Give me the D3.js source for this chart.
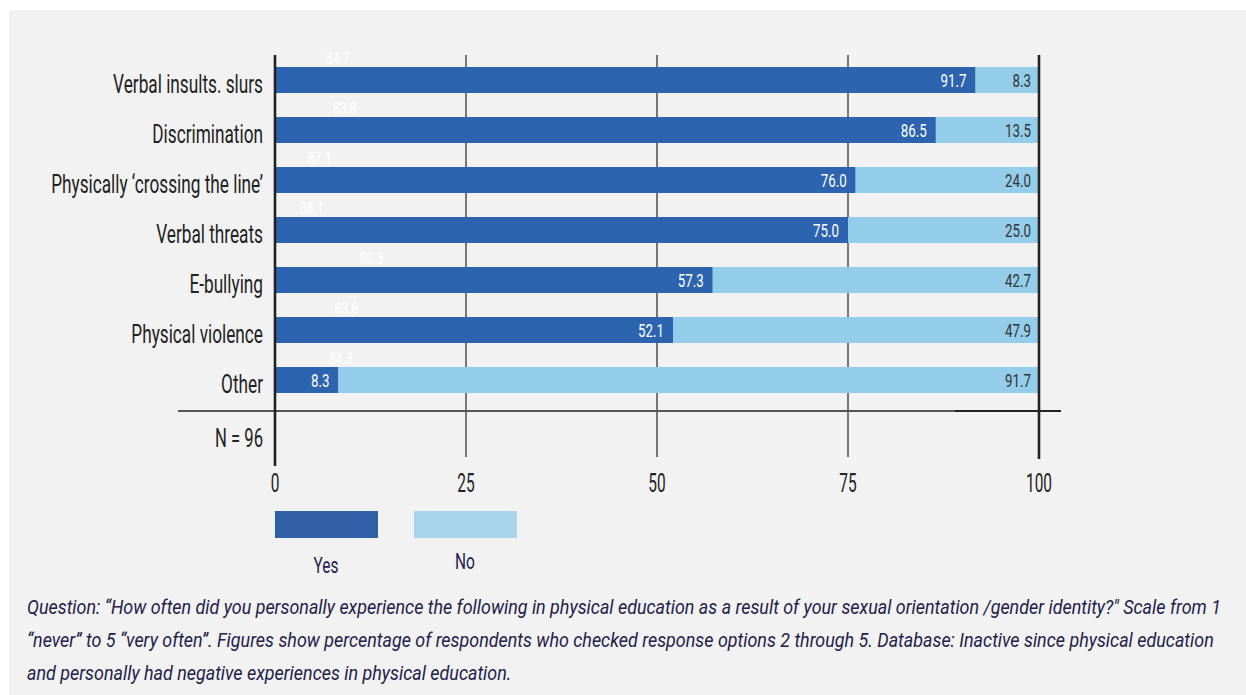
<!DOCTYPE html>
<html>

<head>
    <title>Negative experiences in physical education</title>
    <script src="https://cdn.jsdelivr.net/npm/d3@7/dist/d3.min.js"></script>
    <style>
        body { margin: 0; background: #ffffff; }
    </style>
</head>

<body>

    <svg width="1246" height="695" id="mainSvg" class="svgs"></svg>
    <script>
        // data
        const categories = [
            "Verbal insults. slurs",
            "Discrimination",
            "Physically \u2018crossing the line\u2019",
            "Verbal threats",
            "E-bullying",
            "Physical violence",
            "Other"
        ];
        const yesValues = [91.7, 86.5, 76.0, 75.0, 57.3, 52.1, 8.3];
        const noValues = [8.3, 13.5, 24.0, 25.0, 42.7, 47.9, 91.7];
        // faint white figures printed above each bar
        const ghostValues = [84.7, 83.8, 87.1, 88.1, 80.3, 83.6, 84.3];
        const xTicks = [0, 25, 50, 75, 100];
        const seriesNames = ["Yes", "No"];
        const sampleNote = "N = 96";
        const captionLines = [
            "Question: \u201cHow often did you personally experience the following in physical education as a result of your sexual orientation /gender identity?\" Scale from 1",
            "\u201cnever\u201d to 5 \u201cvery often\u201d. Figures show percentage of respondents who checked response options 2 through 5. Database: Inactive since physical education",
            "and personally had negative experiences in physical education."
        ];

        const FONT = "Roboto, 'Liberation Sans', sans-serif";
        const colors = { Yes: "#2c64b0", No: "#93cdea" };
        const legendColors = { Yes: "#305fa8", No: "#a8d4ec" };

        const mainSvg = d3.select('.svgs')
        const mainWidth = +mainSvg.attr("width");
        const mainHeight = +mainSvg.attr("height");

        // grey panel
        mainSvg.append("rect")
            .attr("x", 9).attr("y", 10)
            .attr("width", mainWidth - 9).attr("height", mainHeight - 10)
            .attr("fill", "#f2f2f2");

        // the original uses a very narrow face; squeeze Roboto to the same widths
        function measure(str, size, style) {
            const t = mainSvg.append("text")
                .attr("font-family", FONT)
                .attr("font-size", size)
                .attr("font-style", style || "normal")
                .text(str);
            const w = t.node().getComputedTextLength();
            t.remove();
            return w;
        }
        const kCat = 150 / measure("Verbal insults. slurs", 25);
        const kVal = 26 / measure("86.5", 18);
        const kGhost = 24 / measure("84.7", 16);
        const kTick = 26 / measure("100", 26);
        const kLegend = 25 / measure("Yes", 22);
        const kNote = 48 / measure(sampleNote, 25);
        const kCap = 1195 / measure(captionLines[0], 21, "italic");

        const sq = (x, y, k) => `translate(${x},${y}) scale(${k},1)`;

        const x = d3.scaleLinear().domain([0, 100]).range([275, 1039]);
        const y = d3.scaleBand()
            .domain(categories)
            .range([55, 405])
            .paddingInner(0.48)
            .paddingOuter(0.24);

        const rows = categories.map((c, i) => ({
            cat: c, yes: yesValues[i], no: noValues[i], ghost: ghostValues[i]
        }));

        const g = mainSvg.append("g").attr("id", "mainGroup");

        // grid lines
        g.selectAll(".grid")
            .data(xTicks.filter(t => t > 0 && t < 100))
            .join("line")
            .attr("class", "grid")
            .attr("x1", d => x(d)).attr("x2", d => x(d))
            .attr("y1", 55).attr("y2", 457)
            .attr("stroke", "#333").attr("stroke-width", 1.3);

        // bars
        g.selectAll(".yes")
            .data(rows)
            .join("rect")
            .attr("class", "yes")
            .attr("x", x(0))
            .attr("y", d => y(d.cat))
            .attr("width", d => x(d.yes) - x(0))
            .attr("height", y.bandwidth())
            .attr("fill", colors.Yes);

        g.selectAll(".no")
            .data(rows)
            .join("rect")
            .attr("class", "no")
            .attr("x", d => x(d.yes))
            .attr("y", d => y(d.cat))
            .attr("width", d => x(d.yes + d.no) - x(d.yes))
            .attr("height", y.bandwidth())
            .attr("fill", colors.No);

        // axis frame lines
        g.append("line")
            .attr("x1", 178).attr("x2", 1061)
            .attr("y1", 411).attr("y2", 411)
            .attr("stroke", "#555").attr("stroke-width", 2);
        g.append("line")
            .attr("x1", x(89)).attr("x2", 1061)
            .attr("y1", 411).attr("y2", 411)
            .attr("stroke", "#222").attr("stroke-width", 2);
        g.append("line")
            .attr("x1", x(0)).attr("x2", x(0))
            .attr("y1", 55).attr("y2", 466)
            .attr("stroke", "#222").attr("stroke-width", 2.6);
        g.append("line")
            .attr("x1", x(100)).attr("x2", x(100))
            .attr("y1", 55).attr("y2", 459)
            .attr("stroke", "#222").attr("stroke-width", 2.6);

        const fmt = d3.format(".1f");

        // value labels
        g.selectAll(".yesLabel")
            .data(rows)
            .join("text")
            .attr("class", "yesLabel")
            .attr("transform", d => sq(x(d.yes) - 9, y(d.cat) + y.bandwidth() / 2 + 6.5, kVal))
            .attr("text-anchor", "end")
            .attr("font-family", FONT).attr("font-size", 18)
            .attr("fill", "#ffffff")
            .text(d => fmt(d.yes));

        g.selectAll(".noLabel")
            .data(rows)
            .join("text")
            .attr("class", "noLabel")
            .attr("transform", d => sq(x(d.yes + d.no) - 8, y(d.cat) + y.bandwidth() / 2 + 6.5, kVal))
            .attr("text-anchor", "end")
            .attr("font-family", FONT).attr("font-size", 18)
            .attr("fill", "#333")
            .text(d => fmt(d.no));

        g.selectAll(".ghost")
            .data(rows)
            .join("text")
            .attr("class", "ghost")
            .attr("transform", d => sq(x(100 - d.ghost) - 54, y(d.cat) - 3, kGhost))
            .attr("text-anchor", "middle")
            .attr("font-family", FONT).attr("font-size", 16)
            .attr("fill", "#ffffff")
            .text(d => fmt(d.ghost));

        // category labels
        g.selectAll(".cat")
            .data(rows)
            .join("text")
            .attr("class", "cat")
            .attr("transform", d => sq(263, y(d.cat) + y.bandwidth() / 2 + 13, kCat))
            .attr("text-anchor", "end")
            .attr("font-family", FONT).attr("font-size", 25)
            .attr("fill", "#222")
            .text(d => d.cat);

        g.append("text")
            .attr("transform", sq(263, 447, kNote))
            .attr("text-anchor", "end")
            .attr("font-family", FONT).attr("font-size", 25)
            .attr("fill", "#222")
            .text(sampleNote);

        // tick labels
        g.selectAll(".tick")
            .data(xTicks)
            .join("text")
            .attr("class", "tick")
            .attr("transform", d => sq(x(d), 492, kTick))
            .attr("text-anchor", "middle")
            .attr("font-family", FONT).attr("font-size", 26)
            .attr("fill", "#222")
            .text(d => d);

        // legend
        const legend = g.selectAll(".legend")
            .data(seriesNames)
            .join("g")
            .attr("class", "legend")
            .attr("transform", (d, i) => `translate(${x(0) + i * 139},511)`);
        legend.append("rect")
            .attr("width", 103).attr("height", 27)
            .attr("fill", d => legendColors[d]);
        legend.append("text")
            .attr("transform", (d, i) => sq(51, i === 0 ? 62 : 58, kLegend))
            .attr("text-anchor", "middle")
            .attr("font-family", FONT).attr("font-size", 22)
            .attr("fill", "#23214a")
            .text(d => d);

        // caption
        g.selectAll(".caption")
            .data(captionLines)
            .join("text")
            .attr("class", "caption")
            .attr("transform", (d, i) => sq(27, 614 + i * 33, kCap))
            .attr("font-family", FONT).attr("font-size", 21)
            .attr("font-style", "italic")
            .attr("fill", "#23214a")
            .text(d => d);

    </script>
</body>

</html>
